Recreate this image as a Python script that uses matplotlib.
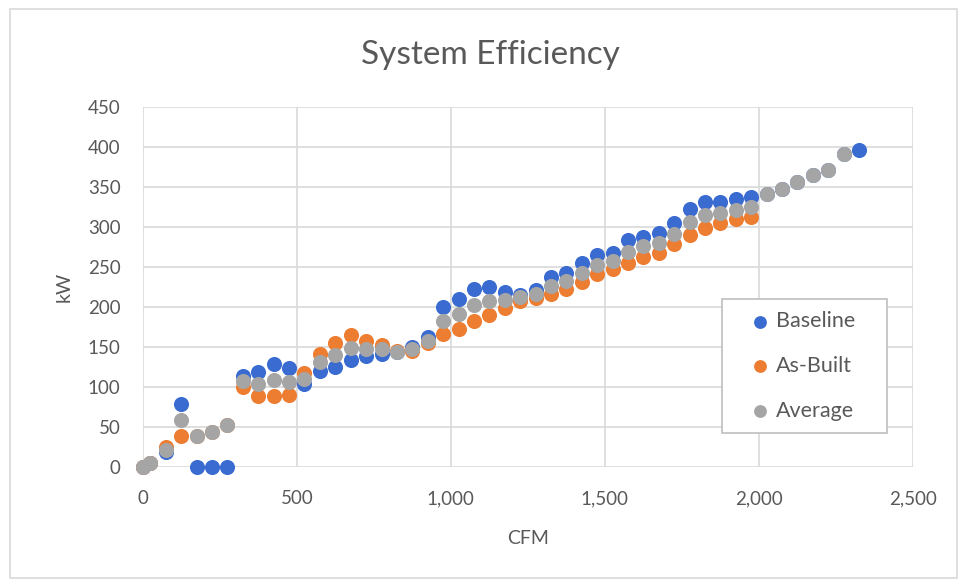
import matplotlib
matplotlib.use("Agg")
import matplotlib.pyplot as plt
from matplotlib.ticker import FuncFormatter, MultipleLocator
from matplotlib.patches import Rectangle

plt.rcParams['font.family'] = ['Lato', 'DejaVu Sans']

# fan test readings, CFM vs kW
baseline_cfm = [0, 25, 75, 125, 175, 225, 275, 325, 375, 425, 475, 525, 575, 625,
                675, 725, 775, 825, 875, 925, 975, 1025, 1075, 1125, 1175, 1225,
                1275, 1325, 1375, 1425, 1475, 1525, 1575, 1625, 1675, 1725, 1775,
                1825, 1875, 1925, 1975, 2025, 2075, 2125, 2175, 2225, 2275, 2325]
baseline_kw = [0, 5, 18, 78, 0, 0, 0, 114, 119, 129, 123, 103, 120, 125,
               133, 139, 141, 144, 150, 162, 200, 210, 222, 225, 219, 215,
               221, 237, 243, 255, 265, 267, 284, 288, 293, 305, 323,
               331, 332, 335, 338, 342, 348, 357, 365, 371, 392, 396]

asbuilt_cfm = [0, 25, 75, 125, 175, 225, 275, 325, 375, 425, 475, 525, 575, 625,
               675, 725, 775, 825, 875, 925, 975, 1025, 1075, 1125, 1175, 1225,
               1275, 1325, 1375, 1425, 1475, 1525, 1575, 1625, 1675, 1725, 1775,
               1825, 1875, 1925, 1975]
asbuilt_kw = [0, 5, 25, 39, 39, 44, 52, 100, 88, 88, 90, 117, 141, 155,
              165, 157, 153, 145, 145, 155, 166, 173, 183, 190, 199, 208,
              211, 216, 222, 231, 241, 248, 255, 263, 268, 279, 290,
              299, 305, 310, 313]

average_cfm = [0, 25, 75, 125, 175, 225, 275, 325, 375, 425, 475, 525, 575, 625,
               675, 725, 775, 825, 875, 925, 975, 1025, 1075, 1125, 1175, 1225,
               1275, 1325, 1375, 1425, 1475, 1525, 1575, 1625, 1675, 1725, 1775,
               1825, 1875, 1925, 1975, 2025, 2075, 2125, 2175, 2225, 2275]
average_kw = [0, 5, 21, 58, 39, 44, 52, 107, 104, 108, 106, 110, 131, 140,
              149, 148, 147, 144, 148, 158, 183, 191, 202, 208, 209, 212,
              216, 226, 233, 243, 253, 258, 269, 276, 280, 292, 306,
              315, 318, 322, 325, 342, 348, 357, 365, 371, 392]

blue = '#3A6BD0'
orange = '#ED7D31'
gray = '#A5A5A5'
text_gray = '#595959'

fig = plt.figure(figsize=(9.58, 5.81), dpi=100)
ax = fig.add_axes([0.149, 0.1967, 0.804, 0.6186])

# chart area border
fig.patches.append(Rectangle((0.010, 0.006), 0.989, 0.978, transform=fig.transFigure,
                             fill=False, edgecolor='#d9d9d9', linewidth=1.2))

ax.scatter(baseline_cfm, baseline_kw, s=118, color=blue, linewidths=0, label='Baseline',
           zorder=3, clip_on=False)
ax.scatter(asbuilt_cfm, asbuilt_kw, s=118, color=orange, linewidths=0, label='As-Built',
           zorder=4, clip_on=False)
ax.scatter(average_cfm, average_kw, s=118, color=gray, linewidths=0, label='Average',
           zorder=5, clip_on=False)

ax.set_xlim(0, 2500)
ax.set_ylim(0, 450)
ax.xaxis.set_major_locator(MultipleLocator(500))
ax.yaxis.set_major_locator(MultipleLocator(50))
ax.xaxis.set_major_formatter(FuncFormatter(lambda v, p: '{:,.0f}'.format(v)))
ax.grid(True, color='#d9d9d9', linewidth=1.2, zorder=0)
ax.set_axisbelow(True)
for s in ax.spines.values():
    s.set_visible(False)
ax.tick_params(length=0, labelsize=13.5, colors=text_gray)
ax.tick_params(axis='x', pad=17)
ax.tick_params(axis='y', pad=16)

fig.text(490 / 958, 1 - 55 / 581, 'System Efficiency', fontsize=24, color=text_gray,
         ha='center', va='center')
ax.set_xlabel('CFM', fontsize=14, color=text_gray, labelpad=16)
ax.set_ylabel('kW', fontsize=14, color=text_gray, labelpad=11)

# legend box drawn separately so its padding can be set freely
ax.add_patch(Rectangle((0.752, 0.094), 0.214, 0.373, transform=ax.transAxes,
                       facecolor='white', edgecolor='#bfbfbf', linewidth=1.2, zorder=6))
leg = ax.legend(loc='center left', bbox_to_anchor=(0.787, 0.280), fontsize=15.5,
                frameon=False, labelspacing=1.15, handletextpad=0.25, borderpad=0,
                markerscale=0.85, handlelength=1.0, borderaxespad=0)
leg.set_zorder(7)
for t in leg.get_texts():
    t.set_color(text_gray)

fig.savefig('out.png', dpi=100, facecolor='white')
